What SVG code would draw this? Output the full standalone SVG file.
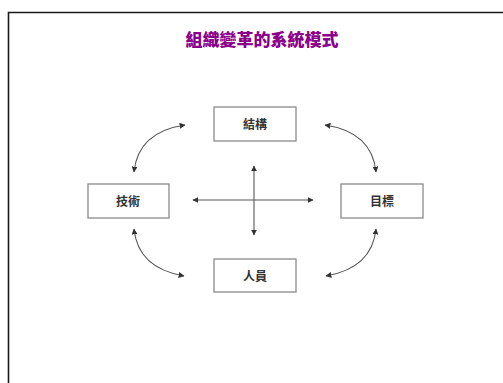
<svg xmlns="http://www.w3.org/2000/svg" width="503" height="383" viewBox="0 0 503 383">
<style>
.frame{fill:none;stroke:#1a1a1a;stroke-width:1.6}
.box{fill:#fff;stroke:#8a8a8a;stroke-width:1.3}
.lbl{font-family:"Noto Sans CJK TC","Noto Sans CJK SC",sans-serif;font-size:12px;font-weight:bold;fill:#333;text-anchor:middle}
.title{font-family:"Noto Sans CJK TC","Noto Sans CJK SC",sans-serif;font-size:17px;font-weight:900;fill:#8b008b;text-anchor:middle}
.conn{fill:none;stroke:#555;stroke-width:1.1;marker-start:url(#ah);marker-end:url(#ah)}
</style>
<defs>
<marker id="ah" viewBox="0 0 10 10" refX="9" refY="5" markerWidth="6" markerHeight="6" markerUnits="userSpaceOnUse" orient="auto-start-reverse">
<path d="M0,0 L10,5 L0,10 z" fill="#333"/>
</marker>
</defs>
<rect width="503" height="383" fill="#fff"/>
<path class="frame" d="M8.5,384 L8.5,12.5 L503,12.5"/>
<text class="title" x="262" y="46">組織變革的系統模式</text>
<g id="node-structure"><rect class="box" x="214" y="107" width="82" height="34"/><text class="lbl" x="255" y="129">結構</text></g>
<g id="node-technology"><rect class="box" x="88" y="184" width="81" height="34"/><text class="lbl" x="128" y="206">技術</text></g>
<g id="node-goal"><rect class="box" x="341" y="184" width="82" height="34"/><text class="lbl" x="382" y="206">目標</text></g>
<g id="node-people"><rect class="box" x="214" y="259" width="82" height="33"/><text class="lbl" x="255" y="281">人員</text></g>
<g id="connectors">
<path class="conn" d="M193,200 L313,200"/>
<path class="conn" d="M254,166 L254,235"/>
<path class="conn" d="M185,125 Q138,132 134,172"/>
<path class="conn" d="M325,125 Q372,132 376,172"/>
<path class="conn" d="M134,229 Q138,268 184,276"/>
<path class="conn" d="M376,229 Q372,268 326,276"/>
</g>
</svg>
